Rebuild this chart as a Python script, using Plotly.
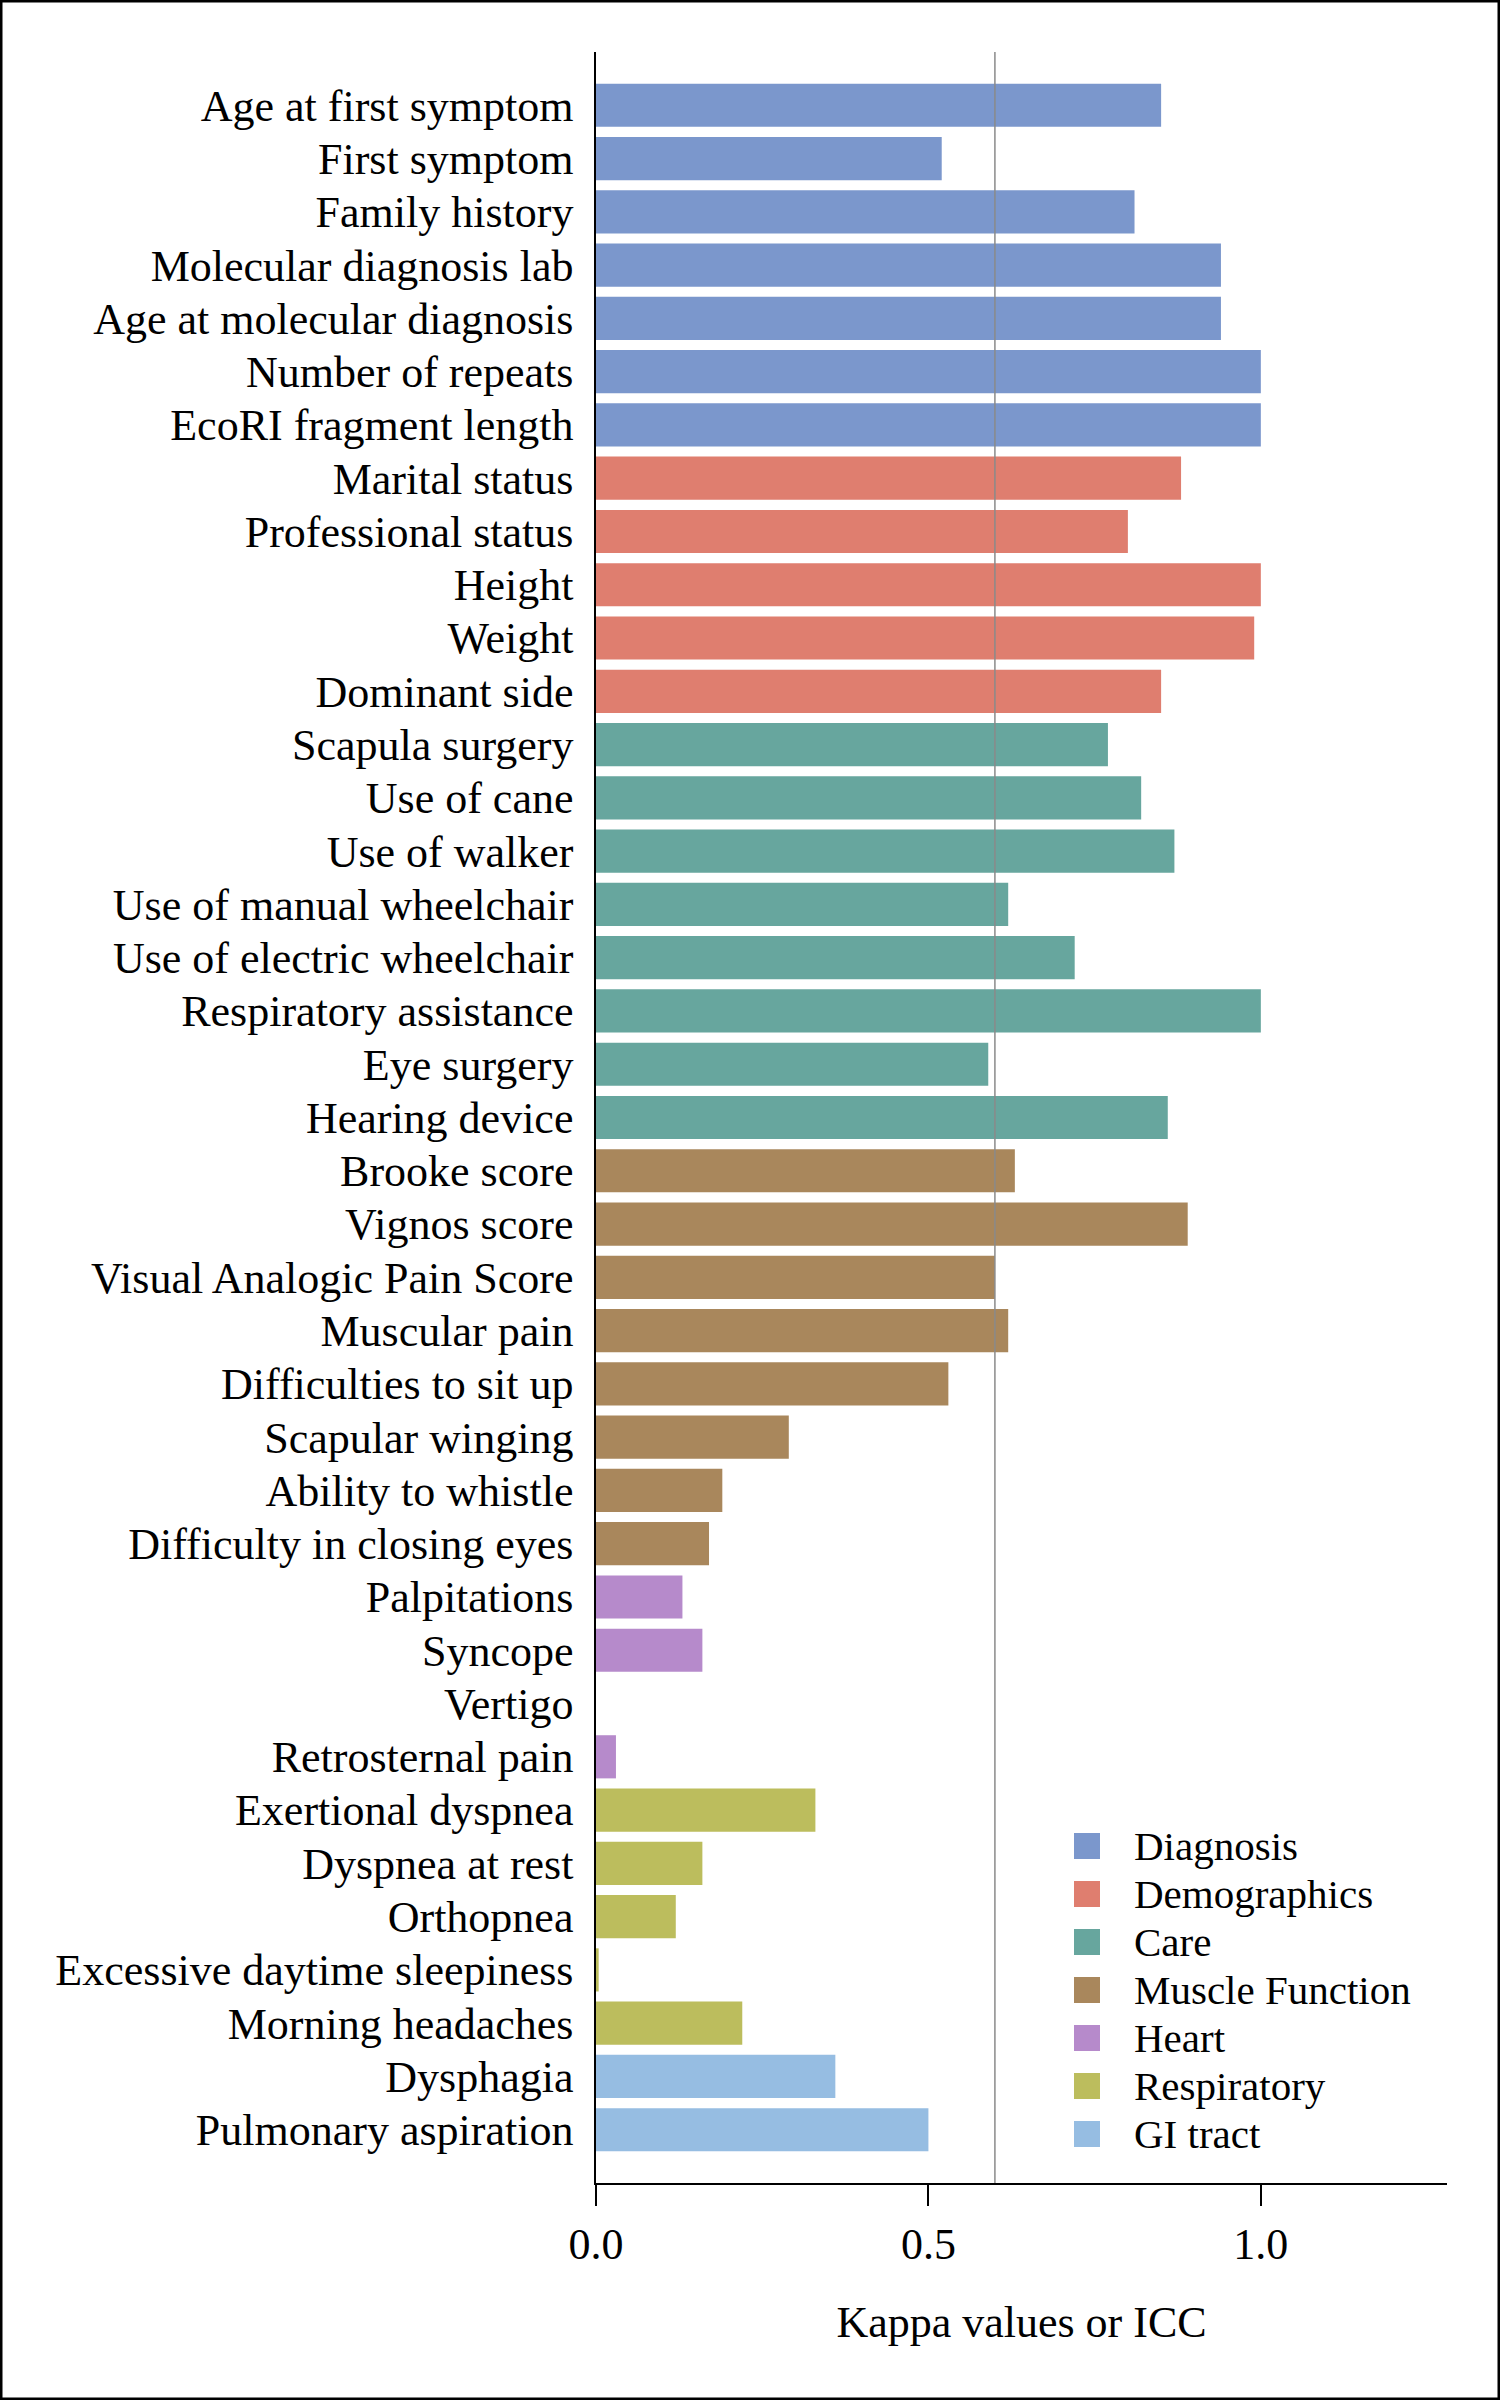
import plotly.graph_objects as go

# Items (top to bottom), their kappa/ICC and the group they belong to
labels = [
    "Age at first symptom", "First symptom", "Family history", "Molecular diagnosis lab",
    "Age at molecular diagnosis", "Number of repeats", "EcoRI fragment length",
    "Marital status", "Professional status", "Height", "Weight", "Dominant side",
    "Scapula surgery", "Use of cane", "Use of walker", "Use of manual wheelchair",
    "Use of electric wheelchair", "Respiratory assistance", "Eye surgery", "Hearing device",
    "Brooke score", "Vignos score", "Visual Analogic Pain Score", "Muscular pain",
    "Difficulties to sit up", "Scapular winging", "Ability to whistle",
    "Difficulty in closing eyes",
    "Palpitations", "Syncope", "Vertigo", "Retrosternal pain",
    "Exertional dyspnea", "Dyspnea at rest", "Orthopnea", "Excessive daytime sleepiness",
    "Morning headaches",
    "Dysphagia", "Pulmonary aspiration",
]
values = [
    0.85, 0.52, 0.81, 0.94, 0.94, 1.00, 1.00,
    0.88, 0.80, 1.00, 0.99, 0.85,
    0.77, 0.82, 0.87, 0.62, 0.72, 1.00, 0.59, 0.86,
    0.63, 0.89, 0.60, 0.62, 0.53, 0.29, 0.19, 0.17,
    0.13, 0.16, 0.00, 0.03,
    0.33, 0.16, 0.12, 0.004, 0.22,
    0.36, 0.50,
]
groups = (["Diagnosis"] * 7 + ["Demographics"] * 5 + ["Care"] * 8 +
          ["Muscle Function"] * 8 + ["Heart"] * 4 + ["Respiratory"] * 5 + ["GI tract"] * 2)

group_names = ["Diagnosis", "Demographics", "Care", "Muscle Function", "Heart", "Respiratory", "GI tract"]
group_colors = ["#7b97cc", "#df7e6f", "#67a69e", "#a9875c", "#b68acb", "#bcbd5d", "#96bde2"]

threshold = 0.6

# page geometry (px)
W, H = 1500, 2400
L, R, T, B = 596, 53, 52, 217
pw, ph = W - L - R, H - T - B

def px_x(px):
    return (px - L) / pw

def px_y(py):
    return (H - B - py) / ph

FONT = "Liberation Serif, Times New Roman, serif"

fig = go.Figure()

for g, c in zip(group_names, group_colors):
    ys = [lab for lab, gg in zip(labels, groups) if gg == g]
    xs = [v for v, gg in zip(values, groups) if gg == g]
    fig.add_trace(go.Bar(
        x=xs, y=ys, orientation="h", name=g,
        marker=dict(color=c, line=dict(width=0)),
        showlegend=False,
    ))

# threshold line
fig.add_shape(type="line", xref="x", yref="paper", x0=threshold, x1=threshold,
              y0=0, y1=1, line=dict(color="#8a8a8a", width=1.5))

# hand-made legend (big square swatches)
for i, (g, c) in enumerate(zip(group_names, group_colors)):
    cy = 1846 + 48 * i
    fig.add_shape(type="rect", xref="paper", yref="paper",
                  x0=px_x(1074), x1=px_x(1100), y0=px_y(cy + 13), y1=px_y(cy - 13),
                  fillcolor=c, line=dict(width=0))
    fig.add_annotation(xref="paper", yref="paper", x=px_x(1132), y=px_y(cy),
                       text=g, showarrow=False, xanchor="left", yanchor="middle",
                       font=dict(family=FONT, size=41, color="black"))

# outer frame
fig.add_shape(type="rect", xref="paper", yref="paper",
              x0=px_x(1), x1=px_x(W - 1), y0=px_y(H - 1), y1=px_y(1),
              line=dict(color="black", width=3), fillcolor="rgba(0,0,0,0)")

fig.update_layout(
    width=W, height=H,
    margin=dict(l=L, r=R, t=T, b=B),
    paper_bgcolor="white", plot_bgcolor="white",
    barmode="overlay", bargap=0.19,
    font=dict(family=FONT, size=44, color="black"),
    xaxis=dict(
        range=[0, 1.28], tickvals=[0, 0.5, 1.0], ticktext=["0.0", "0.5", "1.0"],
        showgrid=False, zeroline=False,
        showline=True, linecolor="black", linewidth=2,
        ticks="outside", ticklen=21, tickwidth=2, tickcolor="black",
        tickfont=dict(size=44),
        title=dict(text="Kappa values or ICC", font=dict(size=44), standoff=38),
    ),
    yaxis=dict(
        type="category", categoryorder="array", categoryarray=labels,
        range=[len(labels), -1],
        showgrid=False, zeroline=False,
        showline=True, linecolor="black", linewidth=1.5,
        ticks="", ticklabelstandoff=12,
        tickfont=dict(size=44),
    ),
)

fig.write_html("out.html", config={"displayModeBar": False},
               post_script="document.body.style.margin='0';")
